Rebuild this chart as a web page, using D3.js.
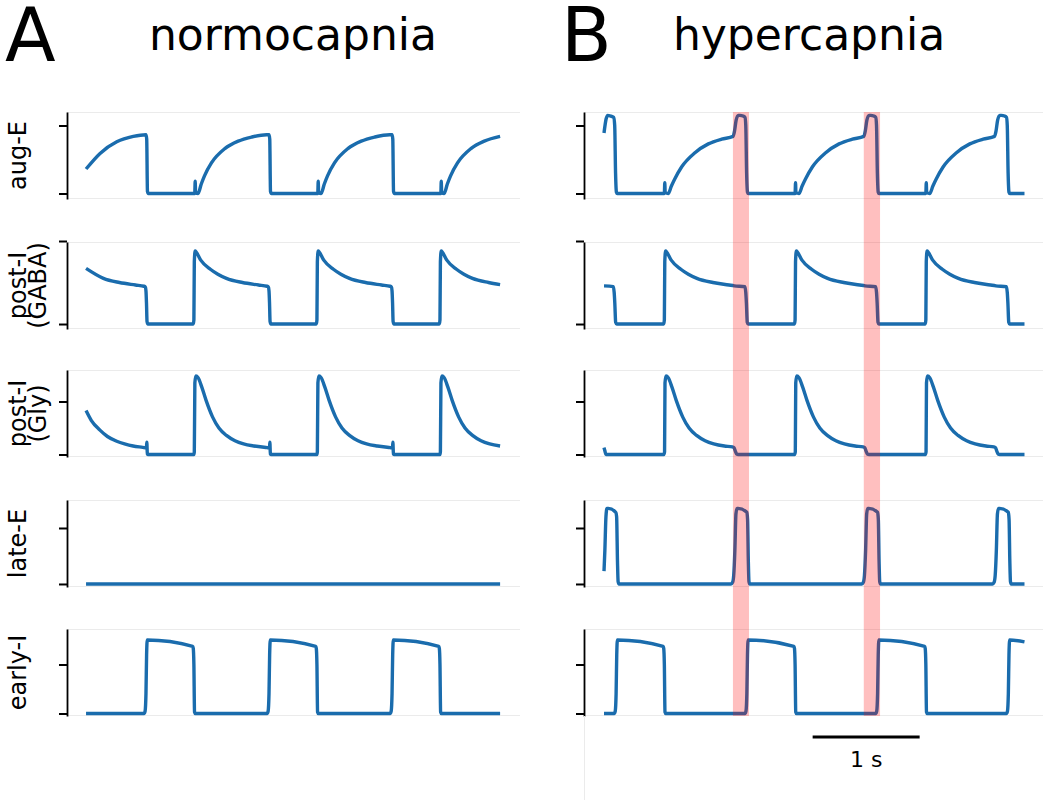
<!DOCTYPE html>
<html><head><meta charset="utf-8">
<script src="https://cdn.jsdelivr.net/npm/d3@7"></script>
<style>body{margin:0;background:#fff}svg{display:block}text{font-family:"DejaVu Sans",sans-serif;fill:#000}</style>
</head><body><svg id="c" width="1050" height="807"></svg>
<script>
// ---------- data (time in s, activity in arbitrary units) ----------
const rowLabels = [["aug-E"], ["post-I", "(GABA)"], ["post-I", "(Gly)"], ["late-E"], ["early-I"]];
const panelLetters = ["A", "B"];
const panelTitles = ["normocapnia", "hypercapnia"];
const tickValues = [0, 1];
const yDomains = [[-0.081, 1.199], [-0.06, 0.988], [-0.047, 1.594], [-0.054, 1.5], [-0.051, 1.724]];

// normocapnia
const augE_A = [[0,0.36],[0.131,0.59],[0.287,0.76],[0.442,0.84],[0.56,0.865],[0.567,0.8],[0.574,0.03],[0.582,0],
 [1.016,0],[1.02,0.18],[1.024,0.01],[1.047,0],[1.077,0.14],[1.107,0.26],[1.172,0.45],[1.297,0.66],[1.422,0.77],[1.547,0.83],[1.687,0.865],[1.71,0.865],[1.717,0.8],[1.724,0.03],[1.732,0],
 [2.166,0],[2.17,0.18],[2.174,0.01],[2.197,0],[2.227,0.14],[2.257,0.26],[2.322,0.45],[2.447,0.66],[2.572,0.77],[2.697,0.83],[2.837,0.865],[2.86,0.865],[2.867,0.8],[2.874,0.03],[2.882,0],
 [3.316,0],[3.32,0.18],[3.324,0.01],[3.347,0],[3.377,0.14],[3.407,0.26],[3.472,0.45],[3.597,0.66],[3.722,0.77],[3.87,0.84]];
const postIgaba_A = [[0,0.67],[0.162,0.55],[0.312,0.50],[0.462,0.47],[0.542,0.455],[0.554,0.445],[0.56,0.40],[0.565,0.25],[0.57,0.03],[0.578,0],
 [1.002,0],[1.008,0.05],[1.012,0.75],[1.02,0.88],[1.028,0.87],[1.072,0.77],[1.162,0.66],[1.232,0.60],[1.312,0.55],[1.462,0.50],[1.612,0.47],[1.692,0.455],[1.704,0.445],[1.71,0.40],[1.715,0.25],[1.72,0.03],[1.728,0],
 [2.152,0],[2.158,0.05],[2.162,0.75],[2.17,0.88],[2.178,0.87],[2.222,0.77],[2.312,0.66],[2.382,0.60],[2.462,0.55],[2.612,0.50],[2.762,0.47],[2.842,0.455],[2.854,0.445],[2.86,0.40],[2.865,0.25],[2.87,0.03],[2.878,0],
 [3.302,0],[3.308,0.05],[3.312,0.75],[3.32,0.88],[3.328,0.87],[3.372,0.77],[3.462,0.66],[3.532,0.60],[3.612,0.55],[3.762,0.50],[3.87,0.475]];
const postIgly_A = [[0,0.83],[0.05,0.64],[0.13,0.46],[0.2,0.34],[0.287,0.25],[0.36,0.2],[0.44,0.16],[0.53,0.135],[0.564,0.125],[0.568,0.23],[0.573,0.01],[0.58,0],
 [1.008,0],[1.012,0.05],[1.017,1.35],[1.027,1.48],[1.047,1.45],[1.082,1.27],[1.122,1.02],[1.182,0.71],[1.242,0.50],[1.312,0.36],[1.392,0.26],[1.472,0.20],[1.572,0.16],[1.692,0.13],[1.714,0.125],[1.718,0.23],[1.723,0.01],[1.73,0],
 [2.158,0],[2.162,0.05],[2.167,1.35],[2.177,1.48],[2.197,1.45],[2.232,1.27],[2.272,1.02],[2.332,0.71],[2.392,0.50],[2.462,0.36],[2.542,0.26],[2.622,0.20],[2.722,0.16],[2.842,0.13],[2.864,0.125],[2.868,0.23],[2.873,0.01],[2.88,0],
 [3.308,0],[3.312,0.05],[3.317,1.35],[3.327,1.48],[3.347,1.45],[3.382,1.27],[3.422,1.02],[3.482,0.71],[3.542,0.50],[3.612,0.36],[3.692,0.26],[3.772,0.20],[3.87,0.16]];
const lateE_A = [[0,0],[3.87,0]];
const earlyI_A = [[0,0],[0.542,0],[0.552,0.05],[0.56,0.4],[0.566,1.2],[0.572,1.5],[0.997,1.37],[1.002,1.33],[1.008,1.0],[1.014,0.03],[1.021,0],
 [1.692,0],[1.702,0.05],[1.71,0.4],[1.716,1.2],[1.722,1.5],[2.147,1.37],[2.152,1.33],[2.158,1.0],[2.164,0.03],[2.171,0],
 [2.842,0],[2.852,0.05],[2.86,0.4],[2.866,1.2],[2.872,1.5],[3.297,1.37],[3.302,1.33],[3.308,1.0],[3.314,0.03],[3.321,0],[3.87,0]];

// hypercapnia
const augE_B = [[0,0.89],[0.02,1.1],[0.035,1.15],[0.06,1.14],[0.09,1.12],[0.1,1.0],[0.108,0.3],[0.116,0.02],[0.124,0],
 [0.564,0],[0.568,0.16],[0.572,0.01],[0.6,0],[0.63,0.11],[0.66,0.21],[0.725,0.39],[0.85,0.6],[0.975,0.73],[1.1,0.8],[1.206,0.84],[1.22,0.92],[1.235,1.08],[1.255,1.15],[1.27,1.15],[1.3,1.14],[1.318,1.12],[1.325,1.0],[1.333,0.3],[1.341,0.02],[1.349,0],
 [1.786,0],[1.79,0.16],[1.794,0.01],[1.822,0],[1.852,0.11],[1.882,0.21],[1.947,0.39],[2.072,0.6],[2.197,0.73],[2.322,0.8],[2.428,0.84],[2.442,0.92],[2.457,1.08],[2.477,1.15],[2.492,1.15],[2.522,1.14],[2.54,1.12],[2.547,1.0],[2.555,0.3],[2.563,0.02],[2.571,0],
 [3.008,0],[3.012,0.16],[3.016,0.01],[3.044,0],[3.074,0.11],[3.104,0.21],[3.169,0.39],[3.294,0.6],[3.419,0.73],[3.544,0.8],[3.65,0.84],[3.664,0.92],[3.679,1.08],[3.699,1.15],[3.714,1.15],[3.744,1.14],[3.762,1.12],[3.769,1.0],[3.777,0.3],[3.785,0.02],[3.793,0],[3.93,0]];
const postIgaba_B = [[0,0.46],[0.087,0.45],[0.095,0.38],[0.101,0.25],[0.109,0.02],[0.118,0],
 [0.558,0],[0.564,0.05],[0.568,0.75],[0.576,0.88],[0.584,0.87],[0.628,0.77],[0.718,0.66],[0.788,0.60],[0.868,0.55],[1.018,0.50],[1.168,0.47],[1.218,0.46],[1.317,0.45],[1.325,0.38],[1.331,0.25],[1.339,0.02],[1.347,0],
 [1.78,0],[1.786,0.05],[1.79,0.75],[1.798,0.88],[1.806,0.87],[1.85,0.77],[1.94,0.66],[2.01,0.60],[2.09,0.55],[2.24,0.50],[2.39,0.47],[2.44,0.46],[2.539,0.45],[2.547,0.38],[2.553,0.25],[2.561,0.02],[2.569,0],
 [3.002,0],[3.008,0.05],[3.012,0.75],[3.02,0.88],[3.028,0.87],[3.072,0.77],[3.162,0.66],[3.232,0.60],[3.312,0.55],[3.462,0.50],[3.612,0.47],[3.662,0.46],[3.761,0.45],[3.769,0.38],[3.775,0.25],[3.783,0.02],[3.791,0],[3.93,0]];
const postIgly_B = [[0,0.13],[0.008,0.07],[0.018,0],
 [0.56,0],[0.566,0.05],[0.57,1.35],[0.58,1.48],[0.6,1.45],[0.635,1.27],[0.675,1.02],[0.735,0.71],[0.795,0.50],[0.865,0.36],[0.945,0.26],[1.025,0.20],[1.125,0.16],[1.2,0.145],[1.215,0.13],[1.228,0.06],[1.24,0.01],[1.255,0],
 [1.782,0],[1.788,0.05],[1.792,1.35],[1.802,1.48],[1.822,1.45],[1.857,1.27],[1.897,1.02],[1.957,0.71],[2.017,0.50],[2.087,0.36],[2.167,0.26],[2.247,0.20],[2.347,0.16],[2.422,0.145],[2.437,0.13],[2.45,0.06],[2.462,0.01],[2.477,0],
 [3.004,0],[3.01,0.05],[3.014,1.35],[3.024,1.48],[3.044,1.45],[3.079,1.27],[3.119,1.02],[3.179,0.71],[3.239,0.50],[3.309,0.36],[3.389,0.26],[3.469,0.20],[3.569,0.16],[3.644,0.145],[3.659,0.13],[3.672,0.06],[3.684,0.01],[3.699,0],[3.93,0]];
const lateE_B = [[0,0.23],[0.008,0.6],[0.018,1.2],[0.028,1.35],[0.04,1.35],[0.11,1.28],[0.118,1.2],[0.126,0.4],[0.132,0.04],[0.14,0],
 [1.187,0],[1.202,0.03],[1.212,0.15],[1.223,0.6],[1.233,1.25],[1.243,1.35],[1.253,1.35],[1.335,1.28],[1.342,1.15],[1.349,0.4],[1.355,0.04],[1.362,0],
 [2.409,0],[2.424,0.03],[2.434,0.15],[2.445,0.6],[2.455,1.25],[2.465,1.35],[2.475,1.35],[2.557,1.28],[2.564,1.15],[2.571,0.4],[2.577,0.04],[2.584,0],
 [3.631,0],[3.646,0.03],[3.656,0.15],[3.667,0.6],[3.677,1.25],[3.687,1.35],[3.697,1.35],[3.779,1.28],[3.786,1.15],[3.793,0.4],[3.799,0.04],[3.806,0],[3.93,0]];
const earlyI_B = [[0,0],[0.095,0],[0.105,0.05],[0.113,0.4],[0.119,1.2],[0.125,1.5],[0.553,1.37],[0.558,1.33],[0.564,1.0],[0.57,0.03],[0.577,0],
 [1.317,0],[1.327,0.05],[1.335,0.4],[1.341,1.2],[1.347,1.5],[1.775,1.37],[1.78,1.33],[1.786,1.0],[1.792,0.03],[1.799,0],
 [2.539,0],[2.549,0.05],[2.557,0.4],[2.563,1.2],[2.569,1.5],[2.997,1.37],[3.002,1.33],[3.008,1.0],[3.014,0.03],[3.021,0],
 [3.761,0],[3.771,0.05],[3.779,0.4],[3.785,1.2],[3.791,1.5],[3.93,1.46]];

const bandStarts = [1.205, 2.428];
const bandEnds = [1.355, 2.58];
const scaleBar = [1.95, 2.95];
const scaleBarLabel = "1 s";

// ---------- layout ----------
const svg = d3.select("#c");
const rowTops = [112, 242, 370, 500, 629], rowH = 87;
const lineColor = "#1a6cad";
const panels = [
  {series: [augE_A, postIgaba_A, postIgly_A, lateE_A, earlyI_A], xr: [67, 520], xd: [-0.178, 4.056], letterX: 5, titleX: 293},
  {series: [augE_B, postIgaba_B, postIgly_B, lateE_B, earlyI_B], xr: [584, 1043], xd: [-0.187, 4.103], letterX: 561, titleX: 809}
];

panels.forEach((p, pi) => {
  const x = d3.scaleLinear().domain(p.xd).range(p.xr);
  p.x = x;
  svg.append("text").attr("x", p.letterX).attr("y", 61).attr("font-size", 74).text(panelLetters[pi]);
  svg.append("text").attr("x", p.titleX).attr("y", 50).attr("font-size", 44).attr("text-anchor", "middle").text(panelTitles[pi]);

  p.series.forEach((s, ri) => {
    const y = d3.scaleLinear().domain(yDomains[ri]).range([rowTops[ri] + rowH, rowTops[ri]]);
    const g = svg.append("g");
    g.append("line").attr("x1", p.xr[0]).attr("x2", p.xr[1]).attr("y1", rowTops[ri] + 0.5).attr("y2", rowTops[ri] + 0.5).attr("stroke", "#ebebeb").attr("stroke-width", 1);
    g.append("line").attr("x1", p.xr[0]).attr("x2", p.xr[1]).attr("y1", rowTops[ri] + rowH - 0.5).attr("y2", rowTops[ri] + rowH - 0.5).attr("stroke", "#ebebeb").attr("stroke-width", 1);
    const line = d3.line().x(d => x(d[0])).y(d => y(d[1])).curve(d3.curveMonotoneX);
    g.append("path").datum(s).attr("d", line).attr("fill", "none").attr("stroke", lineColor)
      .attr("stroke-width", 3.4).attr("stroke-linejoin", "round").attr("stroke-linecap", "butt");
    const ax = g.append("g").attr("transform", `translate(${p.xr[0]},0)`)
      .call(d3.axisLeft(y).tickValues(tickValues).tickSize(8).tickSizeOuter(0).tickFormat(""));
    ax.select(".domain").attr("stroke", "#000").attr("stroke-width", 1.8);
    ax.selectAll(".tick line").attr("stroke", "#000").attr("stroke-width", 2);
    if (pi === 0) {
      const cy = rowTops[ri] + rowH / 2;
      const lab = svg.append("g").attr("transform", `translate(0,${cy}) rotate(-90)`);
      rowLabels[ri].forEach((t, li) => {
        lab.append("text").attr("x", 0).attr("y", 26 + li * 20).attr("text-anchor", "middle").attr("font-size", 24).text(t);
      });
    }
  });
});

const pB = panels[1];
svg.append("line").attr("x1", pB.xr[0] + 0.5).attr("x2", pB.xr[0] + 0.5).attr("y1", rowTops[4] + rowH).attr("y2", 800)
  .attr("stroke", "#ebebeb").attr("stroke-width", 1);

svg.append("g").selectAll("rect").data(bandStarts.map((b, i) => [b, bandEnds[i]])).join("rect")
  .attr("x", d => pB.x(d[0])).attr("width", d => pB.x(d[1]) - pB.x(d[0]))
  .attr("y", rowTops[0]).attr("height", rowTops[4] + rowH - rowTops[0])
  .attr("fill", "#ff0000").attr("fill-opacity", 0.25);

svg.append("line").attr("x1", pB.x(scaleBar[0])).attr("x2", pB.x(scaleBar[1])).attr("y1", 737).attr("y2", 737)
  .attr("stroke", "#000").attr("stroke-width", 3);
svg.append("text").attr("x", (pB.x(scaleBar[0]) + pB.x(scaleBar[1])) / 2).attr("y", 767).attr("text-anchor", "middle")
  .attr("font-size", 22).text(scaleBarLabel);
</script></body></html>
